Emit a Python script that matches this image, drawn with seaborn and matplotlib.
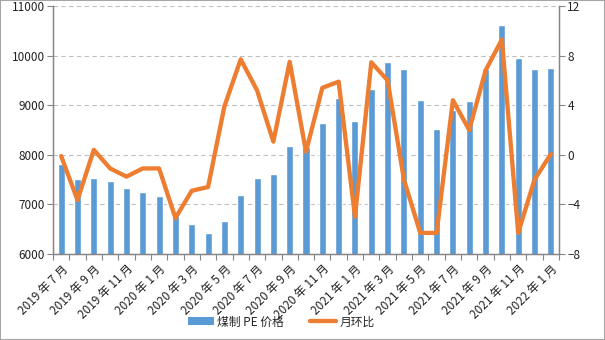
import numpy as np
import pandas as pd
import matplotlib
matplotlib.use("Agg")
import matplotlib.pyplot as plt
from matplotlib.patches import Rectangle
from matplotlib.lines import Line2D
import seaborn as sns

months = [
    "2019 年 7 月", "2019 年 8 月", "2019 年 9 月", "2019 年 10 月", "2019 年 11 月", "2019 年 12 月",
    "2020 年 1 月", "2020 年 2 月", "2020 年 3 月", "2020 年 4 月", "2020 年 5 月", "2020 年 6 月",
    "2020 年 7 月", "2020 年 8 月", "2020 年 9 月", "2020 年 10 月", "2020 年 11 月", "2020 年 12 月",
    "2021 年 1 月", "2021 年 2 月", "2021 年 3 月", "2021 年 4 月", "2021 年 5 月", "2021 年 6 月",
    "2021 年 7 月", "2021 年 8 月", "2021 年 9 月", "2021 年 10 月", "2021 年 11 月", "2021 年 12 月",
    "2022 年 1 月",
]
price = [
    7820, 7516, 7536, 7476, 7334, 7253, 7172, 6806, 6606, 6425,
    6667, 7193, 7536, 7617, 8183, 8150, 8648, 9154, 8689, 9336,
    9881, 9720, 9113, 8527, 8900, 9093, 9720, 10609, 9942, 9720,
    9740,
]
mom = [
    -0.1, -3.65, 0.4, -1.1, -1.76, -1.1, -1.1, -5.1, -2.9, -2.6,
    3.9, 7.7, 5.2, 1.06, 7.5, 0.25, 5.4, 5.9, -5.0, 7.46,
    6.0, -2.0, -6.3, -6.3, 4.4, 2.0, 6.8, 9.3, -6.3, -2.0,
    0.06,
]
price_label = "煤制 PE 价格"
mom_label = "月环比"

BLUE = "#5B9BD5"
ORANGE = "#ED7D31"
GRAY = "#868686"

sns.set_theme(style="white")
plt.rcParams["font.family"] = ["Noto Sans CJK SC", "DejaVu Sans"]
plt.rcParams["font.size"] = 8.5

df = pd.DataFrame({"month": months, "price": price, "mom": mom, "pos": np.arange(len(months))})

fig = plt.figure(figsize=(6.05, 3.4), dpi=100)
ax = fig.add_axes([53 / 605, 1 - 254 / 340, (559 - 53) / 605, (254 - 6) / 340])

sns.barplot(data=df, x="month", y="price", ax=ax, color=BLUE, saturation=1,
            width=0.43, order=months)
ax.set_ylim(6000, 11000)
ax.set_yticks(np.arange(6000, 11001, 1000))
ax.yaxis.grid(True, linestyle=(0, (4, 3)), color="#BFBFBF", linewidth=0.8)
ax.set_axisbelow(True)
ax.set_xlim(-0.5, len(months) - 0.5)
ax.set_xlabel("")
ax.set_ylabel("")

# tick labels every other month, tick marks on category boundaries
ax.set_xticks(np.arange(0, len(months), 2))
ax.set_xticklabels(months[::2], rotation=45, ha="right", rotation_mode="anchor")
ax.set_xticks(np.arange(-0.5, len(months), 1), minor=True)
ax.tick_params(axis="x", which="major", length=0, pad=6, labelsize=8.5, colors="#222222")
ax.tick_params(axis="x", which="minor", length=4, width=0.8, color=GRAY, direction="out", bottom=True)
ax.tick_params(axis="y", length=4, width=0.8, color=GRAY, direction="out", left=True,
               labelsize=8.5, labelcolor="#222222", pad=2)

ax2 = ax.twinx()
sns.lineplot(data=df, x="pos", y="mom", ax=ax2, color=ORANGE, linewidth=3.1,
             sort=False, legend=False)
ax2.set_ylim(-8, 12)
ax2.set_yticks(np.arange(-8, 13, 4))
ax2.set_ylabel("")
ax2.set_xlabel("")
ax2.set_xlim(-0.5, len(months) - 0.5)
ax2.tick_params(axis="y", length=4, width=0.8, color=GRAY, direction="out", right=True,
                labelsize=8.5, labelcolor="#222222", pad=2)

for a in (ax, ax2):
    a.spines["top"].set_visible(False)
    for s in ("left", "right", "bottom"):
        a.spines[s].set_color(GRAY)
        a.spines[s].set_linewidth(0.9)

handles = [
    Rectangle((0, 0), 1, 1, facecolor=BLUE, edgecolor="none"),
    Line2D([0], [0], color=ORANGE, linewidth=3.1),
]
fig.legend(handles, [price_label, mom_label], loc="center", bbox_to_anchor=(0.465, 0.053),
           ncol=2, frameon=False, fontsize=8.5, handlelength=2.2, handleheight=0.65,
           columnspacing=2.2, handletextpad=0.3)

# outer chart frame
fig.patches.append(Rectangle((0, 0), 1, 1, transform=fig.transFigure, fill=False,
                             edgecolor="#A6A6A6", linewidth=1.5))

fig.savefig("out.png", dpi=100)
